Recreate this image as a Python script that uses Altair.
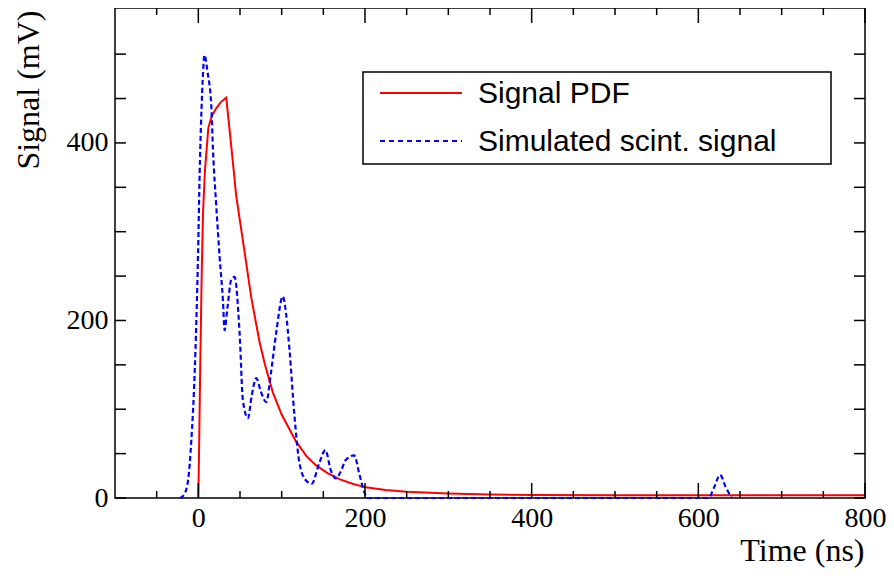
import altair as alt
import pandas as pd

# ---- data ----
SERIES = ["Signal PDF", "Simulated scint. signal"]
COLORS = ["#ff0000", "#0000ff"]

RED_T = [0, 1, 2, 3, 4, 5.6, 8, 12, 16, 21.5, 27, 33.5, 40, 45.5, 53.5, 63.5, 73.4, 80,
         89.4, 100, 117, 130, 141, 155, 170, 185, 201, 225, 250, 300, 350, 400, 500, 600, 700, 800]
RED_V = [0, 60, 130, 190, 250, 321, 370, 417, 430, 439, 446, 451, 392, 340, 290, 226, 176, 150,
         119, 94, 64, 47, 37, 28, 21, 16, 12, 9, 7, 5, 4, 3.5, 3, 3, 3, 3]

BLUE_T = [-22, -17, -12.3, -8.4, -4.4, -0.4, 1.6, 4.5, 7.5, 11, 15.6, 17.6, 21.6, 25.5, 29.5, 31.5,
          35, 39.5, 43.5, 49.5, 53.5, 59.5, 64, 69.5, 75, 81.5, 87, 93.4, 101.4, 105, 109.4, 115.4,
          121.4, 129, 136, 145, 152.5, 159, 165, 171, 177, 187, 193, 199, 203, 400, 612, 619, 626,
          633, 640]
BLUE_V = [0, 4, 20, 65, 141, 272, 366, 455, 499, 480, 441, 392, 328, 272, 223, 189,
          215, 246, 249, 186, 110, 90, 115, 135, 120, 108, 140, 186, 227, 210, 167, 92,
          39, 20, 16, 39, 54, 31, 22, 30, 43, 48, 28, 7, 0, 0, 0, 12, 26,
          12, 0]

X_MAJOR = [0, 200, 400, 600, 800]
X_MINOR = [-50, 50, 100, 150, 250, 300, 350, 450, 500, 550, 650, 700, 750]
Y_MAJOR = [0, 200, 400]
Y_MINOR = [50, 100, 150, 250, 300, 350, 450, 500]

# ---- layout ----
W, H = 750, 490
SERIF = "Liberation Serif"
SANS = "Liberation Sans"

xs = alt.Scale(domain=[-100, 800], nice=False, zero=False)
ys = alt.Scale(domain=[0, 552], nice=False, zero=True)

x_axis = alt.Axis(values=X_MAJOR, ticks=False, domain=False, grid=False,
                  labelFont=SERIF, labelFontSize=28, labelColor="black", labelPadding=6,
                  labelFlush=False, labelOverlap=False,
                  titleFont=SERIF, titleFontSize=32, titleFontWeight="normal", titleColor="black",
                  titleAlign="right", titleAnchor="end", titleX=749, titleY=62,
                  titleBaseline="alphabetic")
y_axis = alt.Axis(values=Y_MAJOR, ticks=False, domain=False, grid=False,
                  labelFont=SERIF, labelFontSize=28, labelColor="black", labelPadding=7,
                  labelFlush=False, labelOverlap=False, labelBaseline="middle",
                  titleFont=SERIF, titleFontSize=32, titleFontWeight="normal", titleColor="black",
                  titleAngle=270, titleAlign="right", titleAnchor="end", titleX=-102, titleY=2,
                  titleBaseline="top")


def X(field):
    return alt.X(field, type="quantitative", scale=xs, axis=x_axis, title="Time (ns)")


def Y(field):
    return alt.Y(field, type="quantitative", scale=ys, axis=y_axis, title="Signal (mV)")


red_df = pd.DataFrame({"t": RED_T, "v": RED_V})
blue_df = pd.DataFrame({"t": BLUE_T, "v": BLUE_V})

red = alt.Chart(red_df).mark_line(color=COLORS[0], strokeWidth=2).encode(x=X("t"), y=Y("v"))
blue = alt.Chart(blue_df).mark_line(color=COLORS[1], strokeWidth=2.2, strokeDash=[5, 3],
                                    interpolate="monotone").encode(x=X("t"), y=Y("v"))

xmaj = pd.DataFrame({"p": X_MAJOR})
xmin = pd.DataFrame({"p": X_MINOR})
ymaj = pd.DataFrame({"p": Y_MAJOR + Y_MINOR})

TK = dict(color="black", strokeWidth=1.5)
ticks = [
    alt.Chart(xmaj).mark_rule(**TK).encode(x=X("p"), y=alt.value(H), y2=alt.value(H - 15)),
    alt.Chart(xmin).mark_rule(**TK).encode(x=X("p"), y=alt.value(H), y2=alt.value(H - 7)),
    alt.Chart(xmaj).mark_rule(**TK).encode(x=X("p"), y=alt.value(0), y2=alt.value(15)),
    alt.Chart(xmin).mark_rule(**TK).encode(x=X("p"), y=alt.value(0), y2=alt.value(7)),
    alt.Chart(ymaj).mark_rule(**TK).encode(y=Y("p"), x=alt.value(0), x2=alt.value(11)),
    alt.Chart(ymaj).mark_rule(**TK).encode(y=Y("p"), x=alt.value(W), x2=alt.value(W - 11)),
]

# ---- legend ----
leg_df0 = pd.DataFrame({"label": [SERIES[0]]})
leg_df1 = pd.DataFrame({"label": [SERIES[1]]})
LX0, LX1, LY0, LY1 = 248, 716, 64, 156
box = alt.Chart(leg_df0).mark_rect(fill="white", stroke="black", strokeWidth=1.5).encode(
    x=alt.value(LX0), x2=alt.value(LX1), y=alt.value(LY0), y2=alt.value(LY1))
r0 = 85
r1 = 133
sym0 = alt.Chart(leg_df0).mark_rule(color=COLORS[0], strokeWidth=2).encode(
    x=alt.value(265), x2=alt.value(347), y=alt.value(r0))
sym1 = alt.Chart(leg_df1).mark_rule(color=COLORS[1], strokeWidth=2, strokeDash=[5, 4]).encode(
    x=alt.value(265), x2=alt.value(347), y=alt.value(r1))
txt0 = alt.Chart(leg_df0).mark_text(font=SANS, fontSize=30, align="left", baseline="middle",
                                    color="black").encode(
    text="label:N", x=alt.value(363), y=alt.value(r0 + 1))
txt1 = alt.Chart(leg_df1).mark_text(font=SANS, fontSize=30, align="left", baseline="middle",
                                    color="black").encode(
    text="label:N", x=alt.value(363), y=alt.value(r1 + 1))

chart = alt.layer(red, blue, *ticks, box, sym0, sym1, txt0, txt1).properties(
    width=W, height=H,
    background="white",
    autosize=alt.AutoSizeParams(type="none"),
    padding={"left": 107, "top": 0, "right": 21, "bottom": 70},
).configure_view(stroke="black", strokeWidth=1.5)

chart.save("out.html", embed_options={"renderer": "svg", "actions": False})
